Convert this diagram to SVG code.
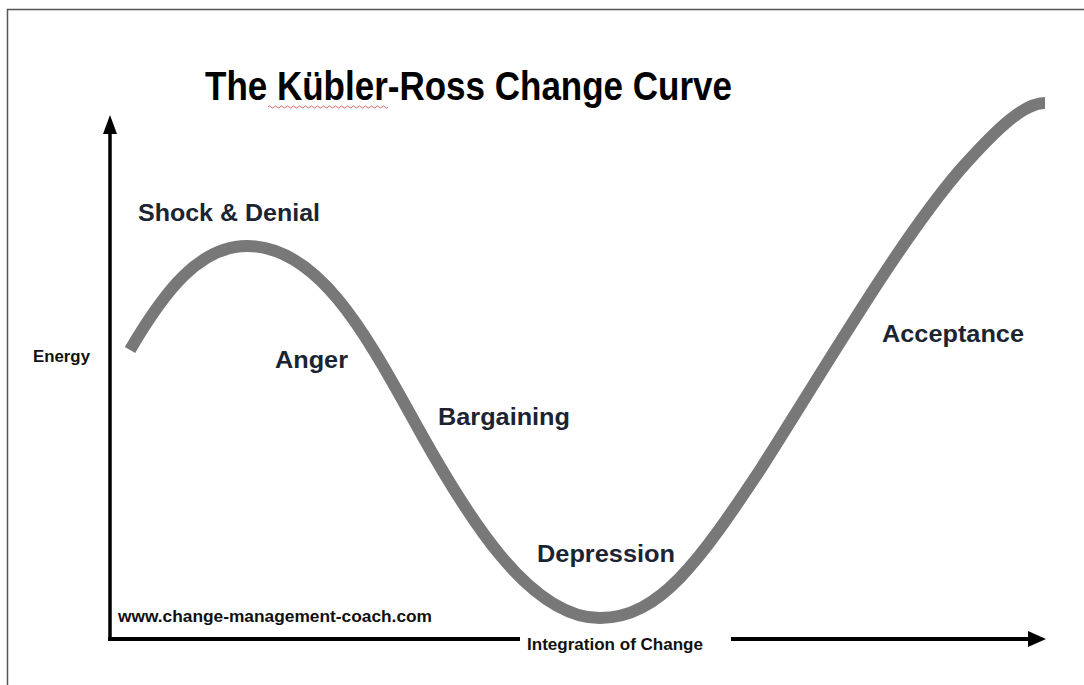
<svg xmlns="http://www.w3.org/2000/svg" width="1084" height="685" viewBox="0 0 1084 685">
  <style>
    .stage { font-family: "Liberation Sans", Arial, sans-serif; font-weight: bold; font-size: 23px; fill: #1b2433; }
    .small { font-family: "Liberation Sans", Arial, sans-serif; font-weight: bold; font-size: 16px; fill: #111; }
    .title { font-family: "Liberation Sans", Arial, sans-serif; font-weight: bold; font-size: 41px; fill: #000; }
    .axis { stroke: #000; fill: none; }
    .head { fill: #000; }
  </style>

  <rect width="1084" height="685" fill="#fff"/>

  <!-- outer frame (top and left edges) -->
  <path d="M7.5,685 V9.5 H1084" fill="none" stroke="#555" stroke-width="1.5"/>

  <!-- title -->
  <g id="title">
    <text class="title" x="205" y="100" textLength="527" lengthAdjust="spacingAndGlyphs">The Kübler-Ross Change Curve</text>
    <path d="M268,107 q1.5,-2 3,0 t3,0 t3,0 t3,0 t3,0 t3,0 t3,0 t3,0 t3,0 t3,0 t3,0 t3,0 t3,0 t3,0 t3,0 t3,0 t3,0 t3,0 t3,0 t3,0 t3,0 t3,0 t3,0 t3,0 t3,0 t3,0 t3,0 t3,0 t3,0 t3,0 t3,0 t3,0 t3,0 t3,0 t3,0 t3,0 t3,0 t3,0 t3,0 t3,0" fill="none" stroke="#c44" stroke-width="0.8"/>
  </g>

  <!-- axes -->
  <g id="connectors">
    <path class="axis" d="M110,641 V130" stroke-width="3.5"/>
    <path class="head" d="M110,115 L117,134 L103,134 z"/>
    <path class="axis" d="M108,639 H520 M731,639 H1032" stroke-width="4"/>
    <path class="head" d="M1046,639 L1028,631 L1028,647 z"/>
  </g>

  <!-- change curve -->
  <g id="curve">
    <path d="M130,350 C165,290 200,246 247,246 C320,246 368,338 418,428 C468,518 530,618 600,618 C660,618 700,560 760,470 C830,360 900,240 960,170 C1000,125 1025,103 1045,103" fill="none" stroke="#787878" stroke-width="12"/>
  </g>

  <!-- stage labels -->
  <g id="shock-denial"><text class="stage" x="138" y="221" textLength="182" lengthAdjust="spacingAndGlyphs">Shock &amp; Denial</text></g>
  <g id="anger"><text class="stage" x="275" y="368" textLength="73" lengthAdjust="spacingAndGlyphs">Anger</text></g>
  <g id="bargaining"><text class="stage" x="438" y="425" textLength="132" lengthAdjust="spacingAndGlyphs">Bargaining</text></g>
  <g id="depression"><text class="stage" x="537" y="562" textLength="138" lengthAdjust="spacingAndGlyphs">Depression</text></g>
  <g id="acceptance"><text class="stage" x="882" y="342" textLength="142" lengthAdjust="spacingAndGlyphs">Acceptance</text></g>

  <!-- axis labels -->
  <g id="energy"><text class="small" x="33" y="362" font-size="15" textLength="57" lengthAdjust="spacingAndGlyphs">Energy</text></g>
  <g id="integration"><text class="small" x="527" y="650" textLength="176" lengthAdjust="spacingAndGlyphs">Integration of Change</text></g>
  <g id="website"><text class="small" x="118" y="622" textLength="314" lengthAdjust="spacingAndGlyphs">www.change-management-coach.com</text></g>
</svg>
